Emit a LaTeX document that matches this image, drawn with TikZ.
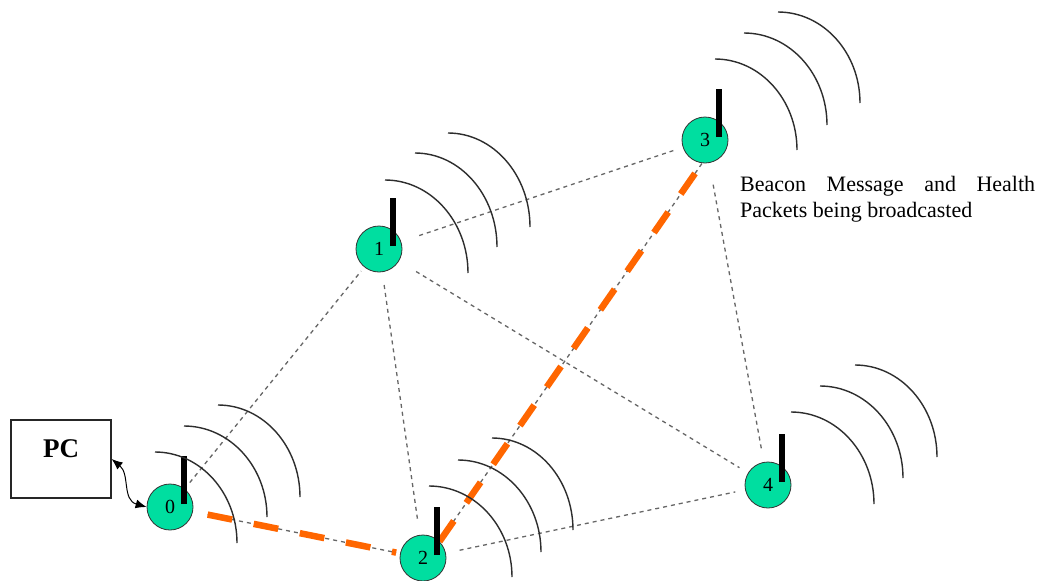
\documentclass[tikz,border=0pt]{standalone}
\usepackage{fontspec}
\setmainfont{Liberation Serif}
\usetikzlibrary{arrows.meta}
\definecolor{mint}{RGB}{0,222,160}
\definecolor{beam}{RGB}{255,102,0}
\definecolor{wavec}{RGB}{45,45,45}
\pgfdeclarelayer{bg}
\pgfsetlayers{bg,main}
\newcommand\wv[4]{\draw[wave] (#1,#2) .. controls ({#1+0.552*(#3-#1)},#2) and (#3,{#4-0.552*(#4-#2)}) .. (#3,#4);}
\newcommand\ant[1]{\draw[antenna] ([xshift=14pt,yshift=3pt]#1.center) -- ([xshift=14pt,yshift=51pt]#1.center);}
\begin{document}
\begin{tikzpicture}[x=1pt,y=-1pt,
  mote/.style={circle, draw=black!80, line width=0.8pt, fill=mint, minimum size=46pt, inner sep=0pt, font=\fontsize{20}{22}\selectfont},
  link/.style={draw=black!60, line width=1.3pt, dash pattern=on 4pt off 4pt},
  route/.style={draw=beam, line width=6.5pt, dash pattern=on 25pt off 22pt},
  wave/.style={draw=wavec, line width=1.4pt},
  antenna/.style={line width=6.5pt, black},
  pcbox/.style={draw=black!85, line width=1.2pt, minimum width=100pt, minimum height=78pt, inner sep=0pt, text height=18pt, text depth=22pt, font=\fontsize{27}{30}\selectfont\bfseries},
  pcarrow/.style={draw=black, line width=1pt, {Latex[length=11pt,width=9pt]}-{Latex[length=11pt,width=9pt]}}
]
\useasboundingbox (0,0) rectangle (1039,581);

% nodes
\node[pcbox] (pc) at (61,459) {PC};
\node[mote] (n0) at (170,507) {0};
\node[mote] (n1) at (379,249) {1};
\node[mote] (n2) at (423,558) {2};
\node[mote] (n3) at (705,140) {3};
\node[mote] (n4) at (768,485) {4};

% links
\begin{pgfonlayer}{bg}
\fill[white] (0,0) rectangle (1039,581);
\draw[link, shorten <=8pt, shorten >=5pt] (n0) -- (n1);
\draw[link, shorten <=19pt, shorten >=10pt] (n1) -- (n3);
\draw[link, shorten <=13pt, shorten >=15pt] (n1) -- (n2);
\draw[link, shorten <=20pt, shorten >=10pt] (n1) -- (n4);
\draw[link, shorten <=22pt, shorten >=13pt] (n3) -- (n4);
\draw[link, shorten <=14pt, shorten >=10pt] (n2) -- (n4);
\draw[link, shorten <=15pt, shorten >=4pt] (n0) -- (n2);
\draw[link] (n2.north east) -- ([xshift=-3pt]n3.south);
\draw[route, shorten <=15pt, shorten >=4pt] (n0) -- (n2);
\draw[route] (n2.north east) -- ([xshift=-3pt]n3.south);
\end{pgfonlayer}

% antennas
\ant{n0}\ant{n1}\ant{n2}\ant{n3}\ant{n4}

% waves
\wv{155}{452}{237}{543}\wv{184}{426}{267}{517}\wv{218}{405}{300}{497}
\wv{385}{180}{468}{273}\wv{415}{153}{497}{247}\wv{448}{133}{530}{227}
\wv{429}{486}{512}{577}\wv{458}{460}{541}{552}\wv{492}{438}{573}{530}
\wv{715}{59}{797}{150}\wv{744}{33}{827}{125}\wv{778}{12}{860}{103}
\wv{791}{412}{874}{504}\wv{820}{386}{903}{478}\wv{855}{365}{937}{457}

% PC link
\draw[pcarrow] (pc.east) .. controls (130,474) and (122,500) .. (n0.west);

% caption
\node[anchor=north west, inner sep=0pt, align=left, font=\fontsize{22}{26}\selectfont] (cap) at (740,176)
  {\makebox[295pt][s]{Beacon Message and Health}\\Packets being broadcasted};
\end{tikzpicture}
\end{document}
